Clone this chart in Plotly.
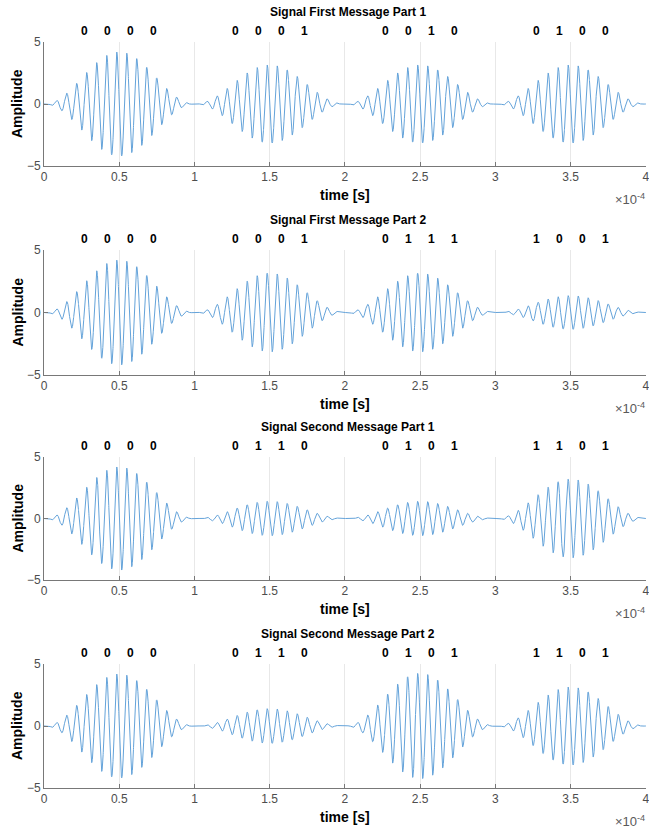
import numpy as np
import plotly.graph_objects as go

# ---- data ----
panel_titles = ["Signal First Message Part 1", "Signal First Message Part 2",
                "Signal Second Message Part 1", "Signal Second Message Part 2"]
panel_bits = [["0000", "0001", "0010", "0100"],
              ["0000", "0001", "0111", "1001"],
              ["0000", "0110", "0101", "1101"],
              ["0000", "0110", "0101", "1101"]]
# peak envelope amplitude of each symbol pulse
panel_amps = [[4.2, 3.15, 3.15, 3.15],
              [4.2, 3.15, 3.15, 1.35],
              [4.2, 1.4, 1.4, 3.2],
              [4.2, 1.4, 4.25, 3.15]]
symbol_period = 1e-4      # s
carrier_freq = 150e3      # Hz
x_tickvals = [0, 0.5e-4, 1e-4, 1.5e-4, 2e-4, 2.5e-4, 3e-4, 3.5e-4, 4e-4]
x_ticktext = ["0", "0.5", "1", "1.5", "2", "2.5", "3", "3.5", "4"]
y_tickvals = [-5, 0, 5]
bit_offsets = [-0.23, -0.077, 0.077, 0.23]   # in symbol periods from the pulse centre

W, H = 649, 832
plot_left, plot_right = 44, 646
panel_tops = [42, 250, 457, 664]
panel_bottoms = [166, 375, 580, 788]

t = np.linspace(0, 4 * symbol_period, 8001)
carrier = np.sin(2 * np.pi * carrier_freq * t)

fig = go.Figure()
line_color = "rgb(100,163,218)"
axis_gray = "rgb(120,120,120)"
FONT = "Liberation Sans, Arial, sans-serif"
tick_font = dict(family=FONT, size=12, color="rgb(77,77,77)")
bold_font = dict(family=FONT, size=12, color="black")

annotations = []
for i in range(4):
    # envelope: one Hann-shaped pulse per symbol period
    env = np.zeros_like(t)
    for k, a in enumerate(panel_amps[i]):
        c = (k + 0.5) * symbol_period
        d = (t - c) / symbol_period
        w = np.where(np.abs(d) <= 0.5, 0.5 * (1 + np.cos(2 * np.pi * d)), 0.0)
        env += a * w
    y = env * carrier
    xa = "x" if i == 0 else f"x{i+1}"
    ya = "y" if i == 0 else f"y{i+1}"
    fig.add_trace(go.Scatter(x=t, y=y, mode="lines", xaxis=xa, yaxis=ya,
                             line=dict(color=line_color, width=1), showlegend=False,
                             hoverinfo="skip"))
    top, bot = panel_tops[i], panel_bottoms[i]
    dom_y = [1 - bot / H, 1 - top / H]
    dom_x = [plot_left / W, plot_right / W]
    ph = bot - top
    xkey = "xaxis" if i == 0 else f"xaxis{i+1}"
    ykey = "yaxis" if i == 0 else f"yaxis{i+1}"
    fig.layout[xkey] = dict(domain=dom_x, anchor=ya,
                            range=[0, 4 * symbol_period * 1.0002],
                            tickvals=x_tickvals, ticktext=x_ticktext,
                            ticks="inside", ticklen=4, tickcolor=axis_gray,
                            showline=True, linecolor=axis_gray, linewidth=1,
                            showgrid=True, gridcolor="rgb(232,232,232)", gridwidth=1,
                            zeroline=False, tickfont=tick_font, mirror=False,
                            automargin=False, ticklabeloverflow="allow")
    fig.layout[ykey] = dict(domain=dom_y, anchor=xa, range=[-5, 5],
                            tickvals=y_tickvals, ticks="inside", ticklen=4,
                            tickcolor=axis_gray, showline=True, linecolor=axis_gray,
                            linewidth=1, showgrid=False, zeroline=False,
                            tickfont=tick_font, automargin=False)
    yref = f"{ya} domain"
    # title
    annotations.append(dict(text="<b>" + panel_titles[i] + "</b>", xref="paper",
                            x=348 / W, yref=yref, y=1 + 30 / ph, showarrow=False,
                            font=bold_font, xanchor="center", yanchor="middle"))
    # bits
    for k, bits in enumerate(panel_bits[i]):
        for j, b in enumerate(bits):
            xpos = (k + 0.5 + bit_offsets[j]) * symbol_period
            annotations.append(dict(text="<b>" + b + "</b>", xref=xa, x=xpos,
                                    yref=yref, y=1 + 11 / ph, showarrow=False,
                                    font=bold_font, xanchor="center", yanchor="middle"))
    # x title
    annotations.append(dict(text="<b>time [s]</b>", xref="paper", x=345 / W,
                            yref=yref, y=-29 / ph, showarrow=False,
                            font=dict(family=FONT, size=14, color="black"),
                            xanchor="center", yanchor="middle"))
    # exponent
    annotations.append(dict(text="×10<sup>-4</sup>", xref="paper", x=647 / W,
                            yref=yref, y=-33 / ph, showarrow=False,
                            font=dict(family=FONT, size=13, color="rgb(90,90,90)"),
                            xanchor="right", yanchor="middle"))
    # y title
    annotations.append(dict(text="<b>Amplitude</b>", xref="paper", x=17 / W,
                            yref=yref, y=0.5, showarrow=False, textangle=-90,
                            font=dict(family=FONT, size=14, color="black"),
                            xanchor="center", yanchor="middle"))

fig.update_layout(width=W, height=H,
                  margin=dict(l=0, r=0, t=0, b=0, autoexpand=False),
                  plot_bgcolor="white", paper_bgcolor="white",
                  annotations=annotations, showlegend=False)
fig.write_html("out.html", config={"displayModeBar": False, "staticPlot": True},
               post_script="document.body.style.margin='0';document.body.style.overflow='hidden';")
